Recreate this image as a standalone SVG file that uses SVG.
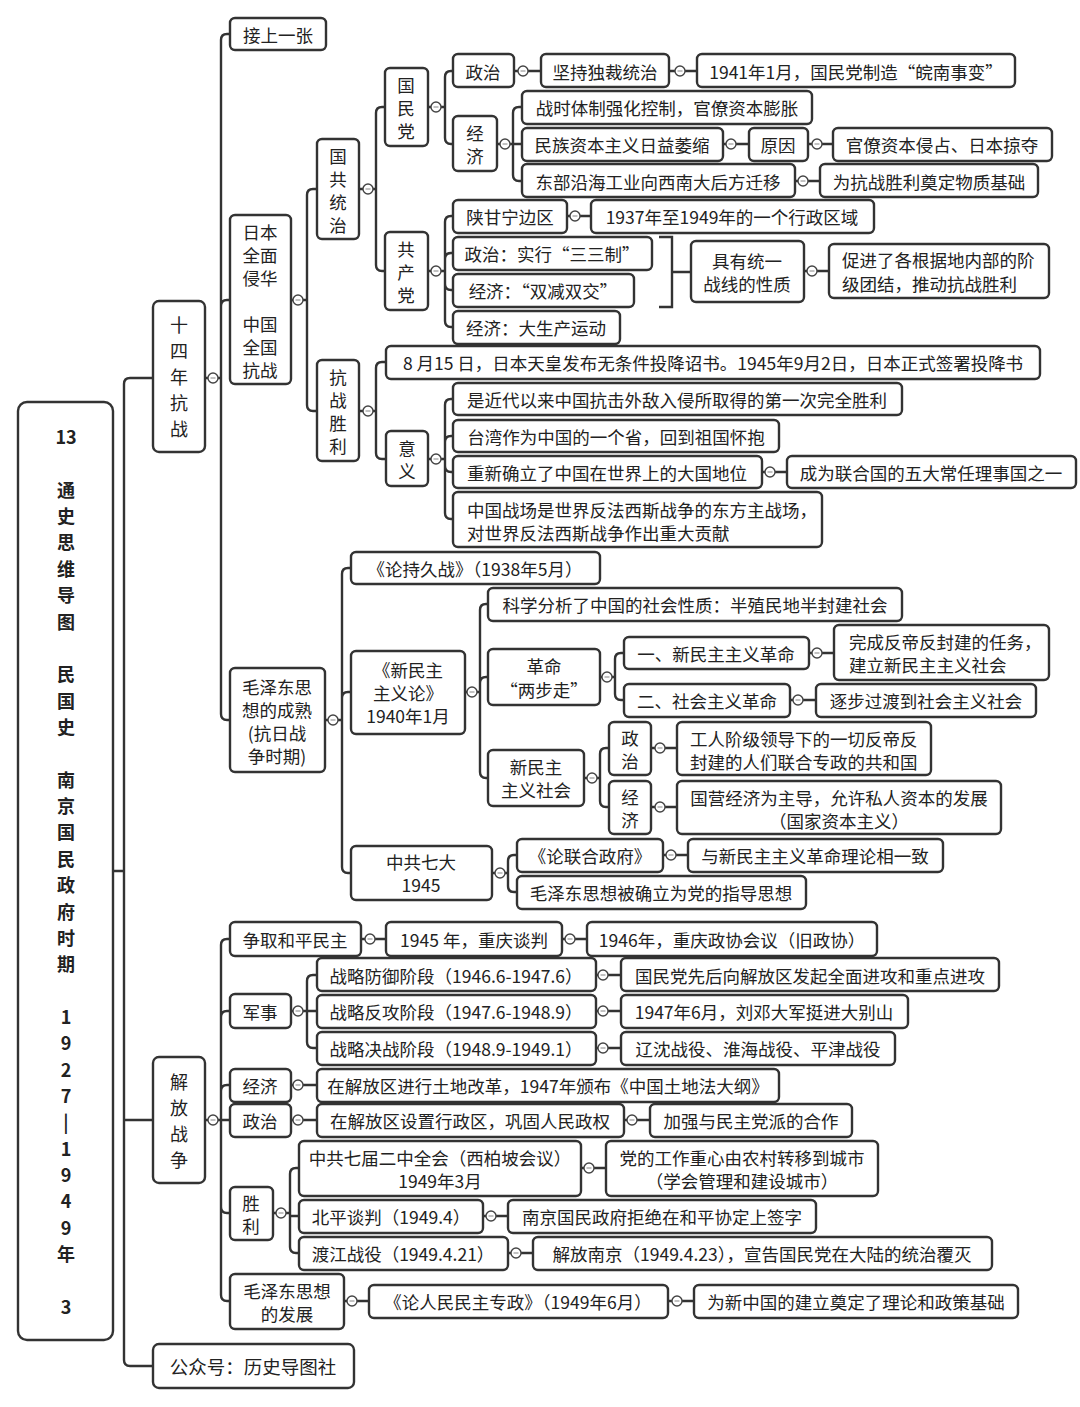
<svg xmlns="http://www.w3.org/2000/svg" width="1080" height="1407" viewBox="0 0 1080 1407">
<style>
rect.b{fill:#fff;stroke:#333;stroke-width:2.4}
text{font-family:"Noto Sans CJK SC","Noto Sans",sans-serif;font-size:17.5px;fill:#222;text-anchor:middle;dominant-baseline:central}
text.l{text-anchor:start}
text.big{font-size:18px}
text.root{font-size:18px;font-weight:bold}
#connectors path{fill:none;stroke:#333;stroke-width:2.4}
</style>
<defs>
<g id="k"><circle r="5" fill="#fff" stroke="#444" stroke-width="1.4"/><path d="M-2.5 0H2.5" stroke="#999" stroke-width="1.2"/></g>
</defs>
<rect width="1080" height="1407" fill="#fff"/>
<g id="connectors">
<path d="M113 871H124M124 871V384Q124 378 130 378H153M124 871V1360Q124 1366 130 1366H153M124 1120H153"/>
<path d="M205 378H208M218 378H221M221 378V40Q221 34 227 34H230M221 378V306Q221 300 227 300H230M221 378V714Q221 720 227 720H230"/>
<path d="M291 300H293M303 300H307M307 300V195Q307 189 313 189H317M307 300V405Q307 411 313 411H317"/>
<path d="M359 189H363M373 189H376M376 189V113Q376 107 382 107H385M376 189V265Q376 271 382 271H385"/>
<path d="M359 411H363M373 411H376M376 411V368Q376 362 382 362H386M376 411V453Q376 459 382 459H386"/>
<path d="M428 107H431M441 107H445M445 107V77Q445 71 451 71H453M445 107V138Q445 144 451 144H453"/>
<path d="M514 71H518M528 71H541M669 71H675M685 71H697"/>
<path d="M497 144H500M510 144H513M513 144V113Q513 107 519 107H522M513 144H522M513 144V175Q513 181 519 181H522"/>
<path d="M723 144H726M736 144H749M808 144H812M822 144H833M795 181H798M808 181H820"/>
<path d="M428 271H431M441 271H445M445 271V222Q445 216 451 216H453M445 271V259Q445 253 451 253H453M445 271V284Q445 290 451 290H453M445 271V321Q445 327 451 327H453"/>
<path d="M567 216H570M580 216H591"/>
<path d="M659 237H672V307H659M672 272H691M804 271H807M817 271H829"/>
<path d="M428 459H431M441 459H445M445 459V405Q445 399 451 399H453M445 459V442Q445 436 451 436H453M445 459V466Q445 472 451 472H453M445 459V513Q445 519 451 519H453"/>
<path d="M762 472H765M775 472H787"/>
<path d="M325 720H328M338 720H342M342 720V574Q342 568 348 568H351M342 720V698Q342 692 348 692H351M342 720V867Q342 873 348 873H351"/>
<path d="M465 692H467M477 692H480M480 692V610Q480 604 486 604H488M480 692V683Q480 677 486 677H488M480 692V772Q480 778 486 778H488"/>
<path d="M600 677H602M612 677H615M615 677V659Q615 653 621 653H624M615 677V694Q615 700 621 700H624"/>
<path d="M809 653H812M822 653H834M790 700H793M803 700H816"/>
<path d="M584 778H587M597 778H600M600 778V754Q600 748 606 748H609M600 778V801Q600 807 606 807H609"/>
<path d="M651 748H655M665 748H677M651 807H655M665 807H677"/>
<path d="M492 873H495M505 873H508M508 873V861Q508 855 514 855H517M508 873V886Q508 892 514 892H517M663 855H666M676 855H688"/>
<path d="M205 1120H208M218 1120H221M221 1120V945Q221 939 227 939H230M221 1120V1017Q221 1011 227 1011H230M221 1120V1091Q221 1085 227 1085H230M221 1120H230M221 1120V1207Q221 1213 227 1213H230M221 1120V1295Q221 1301 227 1301H230"/>
<path d="M361 939H365M375 939H386M562 939H565M575 939H587"/>
<path d="M291 1011H293M303 1011H307M307 1011V981Q307 975 313 975H317M307 1011H317M307 1011V1042Q307 1048 313 1048H317"/>
<path d="M596 975H598M608 975H621M596 1011H598M608 1011H621M596 1048H598M608 1048H621"/>
<path d="M291 1085H293M303 1085H317M291 1120H293M303 1120H317M624 1120H627M637 1120H650"/>
<path d="M273 1213H276M286 1213H290M290 1213V1174Q290 1168 296 1168H299M290 1213V1216H299M290 1213V1247Q290 1253 296 1253H299"/>
<path d="M581 1168H584M594 1168H606M483 1216H486M496 1216H508M508 1253H511M521 1253H533"/>
<path d="M344 1301H347M357 1301H369M668 1301H672M682 1301H694"/>
<use href="#k" x="213" y="378"/><use href="#k" x="298" y="300"/><use href="#k" x="368" y="189"/><use href="#k" x="368" y="411"/>
<use href="#k" x="436" y="107"/><use href="#k" x="523" y="71"/><use href="#k" x="680" y="71"/><use href="#k" x="505" y="144"/>
<use href="#k" x="731" y="144"/><use href="#k" x="817" y="144"/><use href="#k" x="803" y="181"/><use href="#k" x="436" y="271"/>
<use href="#k" x="575" y="216"/><use href="#k" x="812" y="271"/><use href="#k" x="436" y="459"/><use href="#k" x="770" y="472"/>
<use href="#k" x="333" y="720"/><use href="#k" x="472" y="692"/><use href="#k" x="607" y="677"/><use href="#k" x="817" y="653"/>
<use href="#k" x="798" y="700"/><use href="#k" x="592" y="778"/><use href="#k" x="660" y="748"/><use href="#k" x="660" y="807"/>
<use href="#k" x="500" y="873"/><use href="#k" x="671" y="855"/><use href="#k" x="213" y="1120"/><use href="#k" x="370" y="939"/>
<use href="#k" x="570" y="939"/><use href="#k" x="298" y="1011"/><use href="#k" x="603" y="975"/><use href="#k" x="603" y="1011"/>
<use href="#k" x="603" y="1048"/><use href="#k" x="298" y="1085"/><use href="#k" x="298" y="1120"/><use href="#k" x="632" y="1120"/>
<use href="#k" x="281" y="1213"/><use href="#k" x="589" y="1168"/><use href="#k" x="491" y="1216"/><use href="#k" x="516" y="1253"/>
<use href="#k" x="352" y="1301"/><use href="#k" x="677" y="1301"/>
</g>

<g id="n-root"><rect class="b" x="18" y="402" width="95" height="938" rx="9" stroke-width="3"/>
<text class="root"><tspan x="66" y="436">13</tspan><tspan x="66" y="488.7">通</tspan><tspan x="66" y="515.1">史</tspan><tspan x="66" y="541.4">思</tspan><tspan x="66" y="567.8">维</tspan><tspan x="66" y="594.2">导</tspan><tspan x="66" y="620.5">图</tspan><tspan x="66" y="673.2">民</tspan><tspan x="66" y="699.6">国</tspan><tspan x="66" y="726">史</tspan><tspan x="66" y="778.7">南</tspan><tspan x="66" y="805">京</tspan><tspan x="66" y="831.4">国</tspan><tspan x="66" y="857.8">民</tspan><tspan x="66" y="884.1">政</tspan><tspan x="66" y="910.5">府</tspan><tspan x="66" y="936.8">时</tspan><tspan x="66" y="963.2">期</tspan><tspan x="66" y="1015.9">1</tspan><tspan x="66" y="1042.3">9</tspan><tspan x="66" y="1068.6">2</tspan><tspan x="66" y="1095">7</tspan><tspan x="66" y="1121.4">|</tspan><tspan x="66" y="1147.7">1</tspan><tspan x="66" y="1174.1">9</tspan><tspan x="66" y="1200.4">4</tspan><tspan x="66" y="1226.8">9</tspan><tspan x="66" y="1253.2">年</tspan><tspan x="66" y="1305.9">3</tspan></text></g>

<g id="n-14"><rect class="b" x="153" y="301" width="52" height="151" rx="6"/><text class="big"><tspan x="179" y="324">十</tspan><tspan x="179" y="350">四</tspan><tspan x="179" y="376">年</tspan><tspan x="179" y="402">抗</tspan><tspan x="179" y="428">战</tspan></text></g>
<g id="n-jf"><rect class="b" x="153" y="1057" width="52" height="126" rx="6"/><text class="big"><tspan x="179" y="1081">解</tspan><tspan x="179" y="1107">放</tspan><tspan x="179" y="1133">战</tspan><tspan x="179" y="1159">争</tspan></text></g>
<g id="n-gzh"><rect class="b" x="153" y="1344" width="201" height="44" rx="6"/><text x="253" y="1366" style="font-size:18.5px">公众号：历史导图社</text></g>

<g id="n-js"><rect class="b" x="230" y="18" width="96" height="32" rx="5"/><text x="278" y="34">接上一张</text></g>
<g id="n-rb"><rect class="b" x="230" y="215" width="61" height="169" rx="5"/><text><tspan x="260" y="231">日本</tspan><tspan x="260" y="254">全面</tspan><tspan x="260" y="277">侵华</tspan><tspan x="260" y="323">中国</tspan><tspan x="260" y="346">全国</tspan><tspan x="260" y="369">抗战</tspan></text></g>
<g id="n-mzd1"><rect class="b" x="230" y="668" width="95" height="104" rx="5"/><text><tspan x="277" y="686">毛泽东思</tspan><tspan x="277" y="709">想的成熟</tspan><tspan x="277" y="732">(抗日战</tspan><tspan x="277" y="755">争时期)</tspan></text></g>

<g id="n-ggtz"><rect class="b" x="317" y="139" width="42" height="100" rx="5"/><text><tspan x="338" y="155">国</tspan><tspan x="338" y="178">共</tspan><tspan x="338" y="201">统</tspan><tspan x="338" y="224">治</tspan></text></g>
<g id="n-kzsl"><rect class="b" x="317" y="360" width="42" height="101" rx="5"/><text><tspan x="338" y="376">抗</tspan><tspan x="338" y="399">战</tspan><tspan x="338" y="422">胜</tspan><tspan x="338" y="445">利</tspan></text></g>

<g id="n-kmt"><rect class="b" x="385" y="68" width="43" height="78" rx="5"/><text><tspan x="406" y="84">国</tspan><tspan x="406" y="107">民</tspan><tspan x="406" y="130">党</tspan></text></g>
<g id="n-gcd"><rect class="b" x="385" y="232" width="43" height="78" rx="5"/><text><tspan x="406" y="248">共</tspan><tspan x="406" y="271">产</tspan><tspan x="406" y="294">党</tspan></text></g>

<g id="n-kmt-zz"><rect class="b" x="453" y="54" width="61" height="33" rx="5"/><text x="483" y="71">政治</text></g>
<g id="n-dcz"><rect class="b" x="541" y="54" width="128" height="33" rx="5"/><text x="605" y="71">坚持独裁统治</text></g>
<g id="n-wn"><rect class="b" x="697" y="54" width="318" height="33" rx="5"/><text x="856" y="71">1941年1月，国民党制造“皖南事变”</text></g>
<g id="n-kmt-jj"><rect class="b" x="453" y="116" width="44" height="55" rx="5"/><text><tspan x="475" y="132">经</tspan><tspan x="475" y="155">济</tspan></text></g>
<g id="n-zs"><rect class="b" x="522" y="91" width="290" height="33" rx="5"/><text x="667" y="107">战时体制强化控制，官僚资本膨胀</text></g>
<g id="n-mz"><rect class="b" x="522" y="128" width="201" height="33" rx="5"/><text x="622" y="144">民族资本主义日益萎缩</text></g>
<g id="n-yy"><rect class="b" x="749" y="128" width="59" height="33" rx="5"/><text x="778" y="144">原因</text></g>
<g id="n-glzb"><rect class="b" x="833" y="128" width="219" height="33" rx="5"/><text x="942" y="144">官僚资本侵占、日本掠夺</text></g>
<g id="n-db"><rect class="b" x="522" y="164" width="273" height="33" rx="5"/><text x="658" y="181">东部沿海工业向西南大后方迁移</text></g>
<g id="n-wzjc"><rect class="b" x="820" y="164" width="218" height="33" rx="5"/><text x="929" y="181">为抗战胜利奠定物质基础</text></g>

<g id="n-sgn"><rect class="b" x="453" y="200" width="114" height="33" rx="5"/><text x="510" y="216">陕甘宁边区</text></g>
<g id="n-xzqy"><rect class="b" x="591" y="200" width="283" height="33" rx="5"/><text x="732" y="216">1937年至1949年的一个行政区域</text></g>
<g id="n-ssz"><rect class="b" x="453" y="237" width="199" height="33" rx="5"/><text x="552" y="253">政治：实行“三三制”</text></g>
<g id="n-sjsj"><rect class="b" x="453" y="274" width="181" height="33" rx="5"/><text x="543" y="290">经济：“双减双交”</text></g>
<g id="n-dsc"><rect class="b" x="453" y="311" width="167" height="33" rx="5"/><text x="536" y="327">经济：大生产运动</text></g>
<g id="n-tyzx"><rect class="b" x="691" y="241" width="113" height="61" rx="5"/><text><tspan x="747" y="260">具有统一</tspan><tspan x="747" y="283">战线的性质</tspan></text></g>
<g id="n-tj"><rect class="b" x="829" y="244" width="220" height="54" rx="5"/><text class="l"><tspan x="842" y="259">促进了各根据地内部的阶</tspan><tspan x="842" y="283">级团结，推动抗战胜利</tspan></text></g>

<g id="n-815"><rect class="b" x="386" y="346" width="654" height="33" rx="5"/><text x="713" y="362">8 月15 日，日本天皇发布无条件投降诏书。1945年9月2日，日本正式签署投降书</text></g>
<g id="n-yiyi"><rect class="b" x="386" y="431" width="42" height="55" rx="5"/><text><tspan x="407" y="447">意</tspan><tspan x="407" y="470">义</tspan></text></g>
<g id="n-yy1"><rect class="b" x="453" y="383" width="449" height="32" rx="5"/><text x="677" y="399">是近代以来中国抗击外敌入侵所取得的第一次完全胜利</text></g>
<g id="n-yy2"><rect class="b" x="453" y="420" width="326" height="32" rx="5"/><text x="616" y="436">台湾作为中国的一个省，回到祖国怀抱</text></g>
<g id="n-yy3"><rect class="b" x="453" y="456" width="309" height="32" rx="5"/><text x="607" y="472">重新确立了中国在世界上的大国地位</text></g>
<g id="n-lhg"><rect class="b" x="787" y="456" width="289" height="32" rx="5"/><text x="931" y="472">成为联合国的五大常任理事国之一</text></g>
<g id="n-yy4"><rect class="b" x="453" y="492" width="369" height="55" rx="5"/><text class="l"><tspan x="467" y="509">中国战场是世界反法西斯战争的东方主战场，</tspan><tspan x="467" y="532">对世界反法西斯战争作出重大贡献</tspan></text></g>

<g id="n-lcjz"><rect class="b" x="351" y="552" width="249" height="32" rx="5"/><text x="475" y="568">《论持久战》（1938年5月）</text></g>
<g id="n-xmzzyl"><rect class="b" x="351" y="651" width="114" height="83" rx="5"/><text><tspan x="408" y="669">《新民主</tspan><tspan x="408" y="692">主义论》</tspan><tspan x="408" y="715">1940年1月</tspan></text></g>
<g id="n-kxfx"><rect class="b" x="488" y="588" width="414" height="33" rx="5"/><text x="695" y="604">科学分析了中国的社会性质：半殖民地半封建社会</text></g>
<g id="n-lbz"><rect class="b" x="488" y="649" width="112" height="56" rx="5"/><text><tspan x="544" y="665">革命</tspan><tspan x="544" y="689">“两步走”</tspan></text></g>
<g id="n-xmzgm"><rect class="b" x="624" y="637" width="185" height="32" rx="5"/><text x="716" y="653">一、新民主主义革命</text></g>
<g id="n-wcfd"><rect class="b" x="834" y="625" width="215" height="55" rx="5"/><text class="l"><tspan x="849" y="641">完成反帝反封建的任务，</tspan><tspan x="849" y="664">建立新民主主义社会</tspan></text></g>
<g id="n-shzygm"><rect class="b" x="624" y="684" width="166" height="33" rx="5"/><text x="707" y="700">二、社会主义革命</text></g>
<g id="n-zbgd"><rect class="b" x="816" y="684" width="220" height="33" rx="5"/><text x="926" y="700">逐步过渡到社会主义社会</text></g>
<g id="n-xmzsh"><rect class="b" x="488" y="750" width="96" height="56" rx="5"/><text><tspan x="536" y="766">新民主</tspan><tspan x="536" y="789">主义社会</tspan></text></g>
<g id="n-xm-zz"><rect class="b" x="609" y="722" width="42" height="53" rx="5"/><text><tspan x="630" y="737">政</tspan><tspan x="630" y="760">治</tspan></text></g>
<g id="n-gr"><rect class="b" x="677" y="722" width="254" height="53" rx="5"/><text class="l"><tspan x="690" y="738">工人阶级领导下的一切反帝反</tspan><tspan x="690" y="761">封建的人们联合专政的共和国</tspan></text></g>
<g id="n-xm-jj"><rect class="b" x="609" y="781" width="42" height="53" rx="5"/><text><tspan x="630" y="796">经</tspan><tspan x="630" y="819">济</tspan></text></g>
<g id="n-gyjj"><rect class="b" x="677" y="781" width="324" height="53" rx="5"/><text><tspan x="839" y="797">国营经济为主导，允许私人资本的发展</tspan><tspan x="839" y="820">（国家资本主义）</tspan></text></g>
<g id="n-qd"><rect class="b" x="351" y="846" width="141" height="54" rx="5"/><text><tspan x="421" y="861">中共七大</tspan><tspan x="421" y="884">1945</tspan></text></g>
<g id="n-llhzf"><rect class="b" x="517" y="839" width="146" height="33" rx="5"/><text x="590" y="855">《论联合政府》</text></g>
<g id="n-yz"><rect class="b" x="688" y="839" width="255" height="33" rx="5"/><text x="815" y="855">与新民主主义革命理论相一致</text></g>
<g id="n-zdsx"><rect class="b" x="517" y="876" width="289" height="33" rx="5"/><text x="661" y="892">毛泽东思想被确立为党的指导思想</text></g>

<g id="n-zqhp"><rect class="b" x="230" y="922" width="131" height="34" rx="5"/><text x="295" y="939">争取和平民主</text></g>
<g id="n-cqtp"><rect class="b" x="386" y="922" width="176" height="34" rx="5"/><text x="474" y="939">1945 年，重庆谈判</text></g>
<g id="n-zxhy"><rect class="b" x="587" y="922" width="290" height="34" rx="5"/><text x="732" y="939">1946年，重庆政协会议（旧政协）</text></g>
<g id="n-js2"><rect class="b" x="230" y="994" width="61" height="34" rx="5"/><text x="260" y="1011">军事</text></g>
<g id="n-fy"><rect class="b" x="317" y="958" width="279" height="33" rx="5"/><text x="456" y="975">战略防御阶段（1946.6-1947.6）</text></g>
<g id="n-fy2"><rect class="b" x="621" y="958" width="378" height="33" rx="5"/><text x="810" y="975">国民党先后向解放区发起全面进攻和重点进攻</text></g>
<g id="n-fg"><rect class="b" x="317" y="995" width="279" height="33" rx="5"/><text x="456" y="1011">战略反攻阶段（1947.6-1948.9）</text></g>
<g id="n-fg2"><rect class="b" x="621" y="995" width="287" height="33" rx="5"/><text x="764" y="1011">1947年6月，刘邓大军挺进大别山</text></g>
<g id="n-jz"><rect class="b" x="317" y="1032" width="279" height="33" rx="5"/><text x="456" y="1048">战略决战阶段（1948.9-1949.1）</text></g>
<g id="n-jz2"><rect class="b" x="621" y="1032" width="274" height="33" rx="5"/><text x="758" y="1048">辽沈战役、淮海战役、平津战役</text></g>
<g id="n-jf-jj"><rect class="b" x="230" y="1069" width="61" height="33" rx="5"/><text x="260" y="1085">经济</text></g>
<g id="n-tdgg"><rect class="b" x="317" y="1069" width="462" height="33" rx="5"/><text x="548" y="1085">在解放区进行土地改革，1947年颁布《中国土地法大纲》</text></g>
<g id="n-jf-zz"><rect class="b" x="230" y="1104" width="61" height="33" rx="5"/><text x="260" y="1120">政治</text></g>
<g id="n-xzq"><rect class="b" x="317" y="1104" width="307" height="33" rx="5"/><text x="470" y="1120">在解放区设置行政区，巩固人民政权</text></g>
<g id="n-mzdp"><rect class="b" x="650" y="1104" width="202" height="33" rx="5"/><text x="751" y="1120">加强与民主党派的合作</text></g>
<g id="n-sl"><rect class="b" x="230" y="1187" width="43" height="53" rx="5"/><text><tspan x="251" y="1202">胜</tspan><tspan x="251" y="1225">利</tspan></text></g>
<g id="n-qj"><rect class="b" x="299" y="1141" width="282" height="55" rx="5"/><text><tspan x="440" y="1157">中共七届二中全会（西柏坡会议）</tspan><tspan x="440" y="1180">1949年3月</tspan></text></g>
<g id="n-zx"><rect class="b" x="606" y="1141" width="272" height="55" rx="5"/><text><tspan x="742" y="1157">党的工作重心由农村转移到城市</tspan><tspan x="742" y="1180">（学会管理和建设城市）</tspan></text></g>
<g id="n-bp"><rect class="b" x="299" y="1200" width="184" height="33" rx="5"/><text x="391" y="1216">北平谈判（1949.4）</text></g>
<g id="n-jj2"><rect class="b" x="508" y="1200" width="308" height="33" rx="5"/><text x="662" y="1216">南京国民政府拒绝在和平协定上签字</text></g>
<g id="n-dj"><rect class="b" x="299" y="1237" width="209" height="33" rx="5"/><text x="403" y="1253">渡江战役（1949.4.21）</text></g>
<g id="n-jfnj"><rect class="b" x="533" y="1237" width="459" height="33" rx="5"/><text x="762" y="1253">解放南京（1949.4.23），宣告国民党在大陆的统治覆灭</text></g>
<g id="n-mzd2"><rect class="b" x="230" y="1274" width="114" height="55" rx="5"/><text><tspan x="287" y="1290">毛泽东思想</tspan><tspan x="287" y="1313">的发展</tspan></text></g>
<g id="n-lrm"><rect class="b" x="369" y="1285" width="299" height="33" rx="5"/><text x="518" y="1301">《论人民民主专政》（1949年6月）</text></g>
<g id="n-jc"><rect class="b" x="694" y="1285" width="324" height="33" rx="5"/><text x="856" y="1301">为新中国的建立奠定了理论和政策基础</text></g>
</svg>
